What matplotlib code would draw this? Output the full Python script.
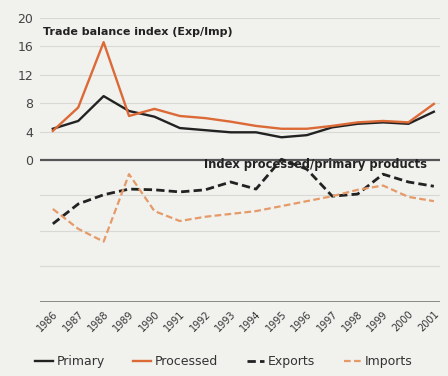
import matplotlib.pyplot as plt

# Years on the x axis
years = list(range(1986, 2002))

# Trade balance index (Exp/Imp), upper panel
primary = [4.4, 5.5, 9.0, 6.9, 6.1, 4.5, 4.2, 3.9, 3.9, 3.2, 3.5, 4.6, 5.1, 5.3, 5.1, 6.8]
processed = [4.1, 7.4, 16.6, 6.2, 7.2, 6.2, 5.9, 5.4, 4.8, 4.4, 4.4, 4.8, 5.3, 5.5, 5.3, 7.9]

# Index processed/primary products, lower panel (drawn below zero)
exports = [-9.0, -6.2, -4.9, -4.1, -4.2, -4.5, -4.2, -3.1, -4.1, 0.1, -1.3, -5.1, -4.8, -2.0, -3.1, -3.7]
imports = [-6.9, -9.7, -11.5, -2.0, -7.2, -8.6, -8.0, -7.6, -7.2, -6.5, -5.8, -5.1, -4.2, -3.6, -5.2, -5.8]

upper_ticks = [0, 4, 8, 12, 16, 20]
lower_grid = [-5, -10, -15]

bg = '#f1f1ee'
orange = '#dc6a36'
orange_light = '#e59a68'
dark = '#222222'

fig = plt.figure(figsize=(4.48, 3.76), dpi=100, facecolor=bg)
ax = fig.add_axes([0.089, 0.197, 0.893, 0.755], facecolor=bg)

for g in upper_ticks[1:] + lower_grid:
    ax.axhline(g, color='#d8d8d4', lw=0.8, zorder=1)
ax.axhline(0, color='#555555', lw=1.6, zorder=2)
ax.axhline(-20, color='#777777', lw=1.2, zorder=2)

ax.plot(years, primary, color=dark, lw=1.7, label='Primary', zorder=3)
ax.plot(years, processed, color=orange, lw=1.7, label='Processed', zorder=3)
ax.plot(years, exports, color=dark, lw=2.0, ls=(0, (3, 1.5)), label='Exports', zorder=3)
ax.plot(years, imports, color=orange_light, lw=1.6, ls=(0, (3, 1.5)), label='Imports', zorder=3)

ax.set_xlim(1985.49, 2001.24)
ax.set_ylim(-20, 20)
ax.set_yticks(upper_ticks)
ax.set_yticklabels([str(t) for t in upper_ticks], fontsize=9, color='#444444')
ax.set_xticks(years)
ax.set_xticklabels([str(y) for y in years], rotation=45, ha='right', va='top',
                   rotation_mode='anchor', fontsize=7, color='#333333')
ax.tick_params(length=0, pad=5)
for s in ax.spines.values():
    s.set_visible(False)

ax.text(1985.6, 18.0, 'Trade balance index (Exp/Imp)', fontsize=8, fontweight='bold',
        color='#222222', va='center', ha='left')
ax.text(2000.75, -0.6, 'Index processed/primary products', fontsize=8.3, fontweight='bold',
        color='#222222', va='center', ha='right', zorder=4)

fig.legend(loc='center', bbox_to_anchor=(0.5, 0.038), ncol=4, frameon=False,
           fontsize=9, handlelength=1.4, handletextpad=0.3, columnspacing=2.3,
           labelcolor='#333333')

fig.savefig('out.png', dpi=100, facecolor=bg)
